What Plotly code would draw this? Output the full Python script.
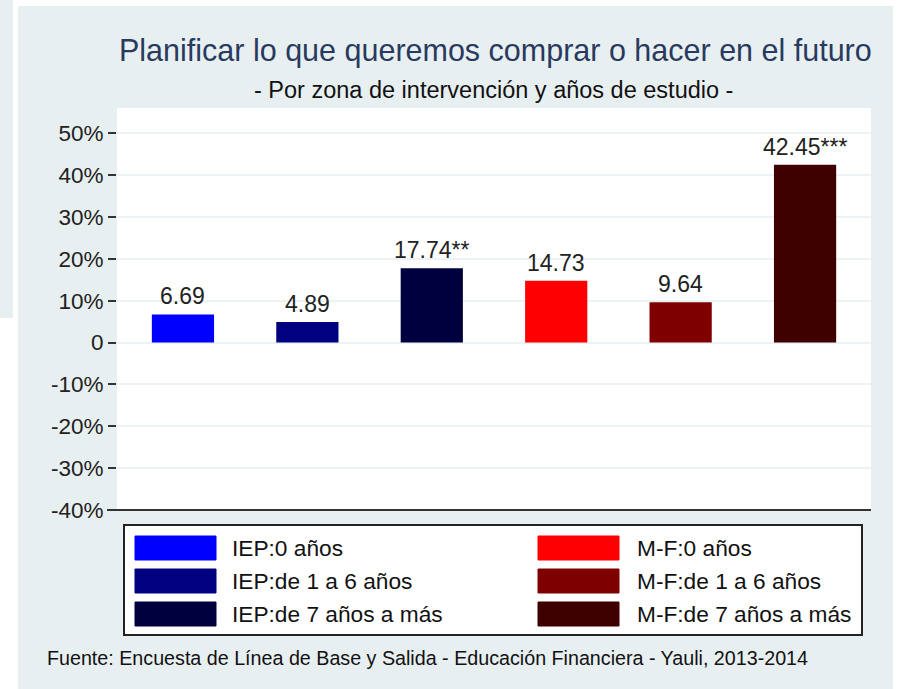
import plotly.graph_objects as go

categories = ["IEP:0 años", "IEP:de 1 a 6 años", "IEP:de 7 años a más",
              "M-F:0 años", "M-F:de 1 a 6 años", "M-F:de 7 años a más"]
values = [6.69, 4.89, 17.74, 14.73, 9.64, 42.45]
stars = ["", "", "**", "", "", "***"]
colors = ["#0000ff", "#000080", "#00003f", "#ff0000", "#7f0000", "#3f0000"]
tick_vals = [-40, -30, -20, -10, 0, 10, 20, 30, 40, 50]
tick_text = ["-40%", "-30%", "-20%", "-10%", "0", "10%", "20%", "30%", "40%", "50%"]

W, H = 900, 689
L, R, T, B = 117, 871, 108, 510
pw, ph = R - L, B - T

def px(x):
    return (x - L) / pw

def py(y):
    return (B - y) / ph

FONT = "Liberation Sans, Arial, sans-serif"

fig = go.Figure()
for i, (c, v, col) in enumerate(zip(categories, values, colors)):
    fig.add_trace(go.Bar(x=[i], y=[v], name=c, marker=dict(color=col, line=dict(width=0)),
                         width=0.5, showlegend=False))
    fig.add_annotation(x=i, y=v, text=f"{v:.2f}{stars[i]}", showarrow=False,
                       yanchor="bottom", yshift=3, font=dict(size=23, color="#222222", family=FONT))

shapes = []
# panel backgrounds
shapes.append(dict(type="rect", xref="paper", yref="paper", x0=px(0), x1=px(13), y0=py(0), y1=py(318),
                   fillcolor="#e8eff1", line=dict(width=0), layer="below"))
shapes.append(dict(type="rect", xref="paper", yref="paper", x0=px(18), x1=px(893), y0=py(6), y1=py(689),
                   fillcolor="#e8eff1", line=dict(width=0), layer="below"))
shapes.append(dict(type="rect", xref="paper", yref="paper", x0=0, x1=1, y0=0, y1=1,
                   fillcolor="white", line=dict(width=0), layer="below"))
# bottom axis line
shapes.append(dict(type="line", xref="paper", yref="paper", x0=px(107), x1=1, y0=0, y1=0,
                   line=dict(color="#333333", width=2)))
# legend box
shapes.append(dict(type="rect", xref="paper", yref="paper", x0=px(124), x1=px(862), y0=py(525), y1=py(635),
                   fillcolor="white", line=dict(color="#222222", width=2)))
leg_cols = [(135, 230), (538, 635)]
leg_rows = [548, 581, 614]
for i, (c, col) in enumerate(zip(categories, colors)):
    cx, tx = leg_cols[i // 3]
    ry = leg_rows[i % 3]
    shapes.append(dict(type="rect", xref="paper", yref="paper", x0=px(cx), x1=px(cx + 81),
                       y0=py(ry - 12), y1=py(ry + 12), fillcolor=col, line=dict(color=col, width=1)))
    fig.add_annotation(xref="paper", yref="paper", x=px(tx), y=py(ry), text=c, showarrow=False,
                       xanchor="left", yanchor="middle", font=dict(size=22.7, color="#111111", family=FONT))

fig.add_annotation(xref="paper", yref="paper", x=px(495), y=py(50), text="Planificar lo que queremos comprar o hacer en el futuro",
                   showarrow=False, xanchor="center", yanchor="middle", font=dict(size=30.5, color="#283a5e", family=FONT))
fig.add_annotation(xref="paper", yref="paper", x=px(493), y=py(90), text="- Por zona de intervención y años de estudio -",
                   showarrow=False, xanchor="center", yanchor="middle", font=dict(size=23.5, color="#111111", family=FONT))
fig.add_annotation(xref="paper", yref="paper", x=px(45), y=py(658),
                   text="Fuente: Encuesta de Línea de Base y Salida - Educación Financiera - Yauli, 2013-2014",
                   showarrow=False, xanchor="left", yanchor="middle", font=dict(size=19.7, color="#111111", family=FONT))

fig.update_layout(
    width=W, height=H, margin=dict(l=L, r=W - R, t=T, b=H - B, pad=0),
    paper_bgcolor="white", plot_bgcolor="rgba(0,0,0,0)",
    shapes=shapes, showlegend=False, bargap=0.5,
    xaxis=dict(range=[-0.53, 5.53], showticklabels=False, showgrid=False, zeroline=False, ticks=""),
    yaxis=dict(range=[-40, 56], tickvals=tick_vals, ticktext=tick_text, ticks="outside", ticklen=8,
               tickwidth=2, tickcolor="#333333", showgrid=True, gridcolor="#edf3f5", gridwidth=2,
               zeroline=False, showline=False, tickfont=dict(size=22.5, color="#222222", family=FONT)),
)
fig.write_html("out.html", config={"displayModeBar": False},
               post_script="document.body.style.margin='0';document.body.style.overflow='hidden';")
